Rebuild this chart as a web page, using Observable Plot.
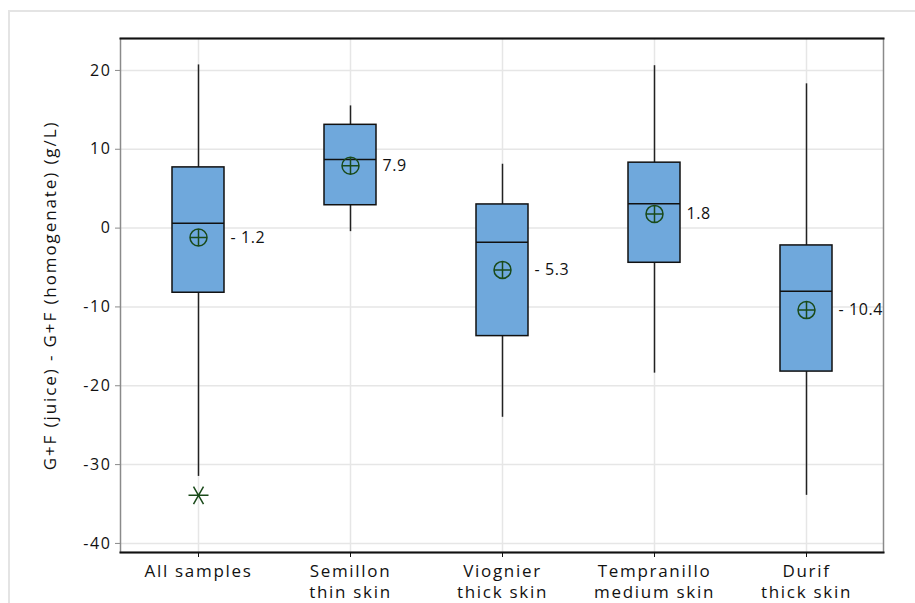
<!DOCTYPE html>
<html>
<head>
<meta charset="utf-8">
<script src="https://cdn.jsdelivr.net/npm/d3@7"></script>
<script src="https://cdn.jsdelivr.net/npm/@observablehq/plot@0.6"></script>
<style>
  html, body { margin: 0; padding: 0; background: #fff; overflow: hidden; }
  #border { position: absolute; left: 8px; top: 10px; width: 940px; height: 640px; border: 2px solid #e4e4e4; box-sizing: border-box; }
  #chart { position: absolute; left: 0; top: 0; }
  g[aria-label="x-axis tick label"] { letter-spacing: 1.7px; }
  g[aria-label="y-axis tick label"] { letter-spacing: 1.6px; }
  text.ytitle { letter-spacing: 1.9px; }
  text.meanlabel { letter-spacing: 0.6px; }
</style>
</head>
<body>
<div id="border"></div>
<div id="chart"></div>
<script>
// ---- data ----
const groups = ["All samples", "Semillon\nthin skin", "Viognier\nthick skin", "Tempranillo\nmedium skin", "Durif\nthick skin"];
const whiskerLow  = [-31.5, -0.45, -24.0, -18.4, -33.9];
const q1          = [-8.2,   2.9, -13.7,  -4.4, -18.2];
const median      = [ 0.6,   8.7,  -1.8,   3.1,  -8.0];
const q3          = [ 7.7,  13.1,   3.0,   8.3,  -2.2];
const whiskerHigh = [20.7,  15.5,   8.1,  20.6,  18.3];
const means       = [-1.2,   7.9,  -5.3,   1.8, -10.4];
const outlierGroups = ["All samples"];
const outlierValues = [-33.9];
const yTicks = [-40, -30, -20, -10, 0, 10, 20];
const yLabel = "G+F (juice) - G+F (homogenate) (g/L)";

const boxes = groups.map((g, i) => ({
  group: g, lo: whiskerLow[i], q1: q1[i], med: median[i], q3: q3[i], hi: whiskerHigh[i], mean: means[i]
}));
const outliers = outlierGroups.map((g, i) => ({group: g, value: outlierValues[i]}));

const circlePlus = {
  draw(ctx, size) {
    const r = Math.sqrt(size / Math.PI);
    ctx.moveTo(r, 0);
    ctx.arc(0, 0, r, 0, 2 * Math.PI);
    ctx.moveTo(-r, 0); ctx.lineTo(r, 0);
    ctx.moveTo(0, -r); ctx.lineTo(0, r);
  }
};
const asterisk = {
  draw(ctx, size) {
    const r = Math.sqrt(size / Math.PI);
    const a = r * Math.cos(Math.PI / 3), b = r * Math.sin(Math.PI / 3);
    ctx.moveTo(-r, 0); ctx.lineTo(r, 0);
    ctx.moveTo(-a, -b); ctx.lineTo(a, b);
    ctx.moveTo(-a, b); ctx.lineTo(a, -b);
  }
};

const fmt = v => v < 0 ? "- " + Math.abs(v).toFixed(1) : v.toFixed(1);
const inset = 50;
const boxFill = "#6fa8dc";
const green = "#1a4a1a";

const chart = Plot.plot({
  width: 915,
  height: 603,
  marginLeft: 120,
  marginTop: 38,
  marginRight: 32,
  marginBottom: 51,
  style: { fontFamily: "'Open Sans', sans-serif", color: "#111", background: "transparent" },
  x: { domain: groups, padding: 0, label: null },
  y: { domain: [-41.15, 24.05], label: null },
  marks: [
    Plot.gridY(yTicks, { stroke: "#e6e6e6", strokeOpacity: 1, strokeWidth: 1.5 }),
    Plot.gridX({ stroke: "#e6e6e6", strokeOpacity: 1, strokeWidth: 1.5 }),
    Plot.frame({ stroke: "#8a8a8a", strokeWidth: 1.5 }),
    Plot.frame({ anchor: "top", stroke: "#111", strokeWidth: 2 }),
    Plot.frame({ anchor: "bottom", stroke: "#111", strokeWidth: 2 }),
    Plot.axisY(yTicks, {
      tickSize: 5, tickPadding: 4, stroke: "#8a8a8a", fontSize: 16, fill: "#111",
      tickFormat: d => String(d), label: null
    }),
    Plot.axisX({
      tickSize: 5, tickPadding: 5, stroke: "#111", fontSize: 17, fill: "#111",
      lineHeight: 1.22, label: null
    }),
    Plot.text([yLabel], {
      frameAnchor: "left", dx: -70, rotate: -90, fontSize: 17, fill: "#111", textAnchor: "middle"
    }),
    Plot.ruleX(boxes, { x: "group", y1: "q3", y2: "hi", stroke: "#222", strokeWidth: 1.5 }),
    Plot.ruleX(boxes, { x: "group", y1: "lo", y2: "q1", stroke: "#222", strokeWidth: 1.5 }),
    Plot.barY(boxes, { x: "group", y1: "q1", y2: "q3", fill: boxFill, stroke: "#111", strokeWidth: 1.5, insetLeft: inset, insetRight: inset }),
    Plot.tickY(boxes, { x: "group", y: "med", stroke: "#111", strokeWidth: 1.5, insetLeft: inset, insetRight: inset }),
    Plot.dot(boxes, { x: "group", y: "mean", symbol: circlePlus, r: 8.5, stroke: green, strokeWidth: 1.5, fill: "none" }),
    Plot.text(boxes, { x: "group", y: "mean", text: d => fmt(d.mean), dx: 32, textAnchor: "start", fontSize: 16, fill: "#111" }),
    Plot.dot(outliers, { x: "group", y: "value", symbol: asterisk, r: 10, stroke: green, strokeWidth: 1.5 })
  ]
});
const meanTexts = new Set(means.map(fmt));
d3.select(chart).selectAll("text").each(function () {
  const t = this.textContent;
  if (t === yLabel) this.classList.add("ytitle");
  else if (meanTexts.has(t)) this.classList.add("meanlabel");
});
document.getElementById("chart").appendChild(chart);
</script>
</body>
</html>
